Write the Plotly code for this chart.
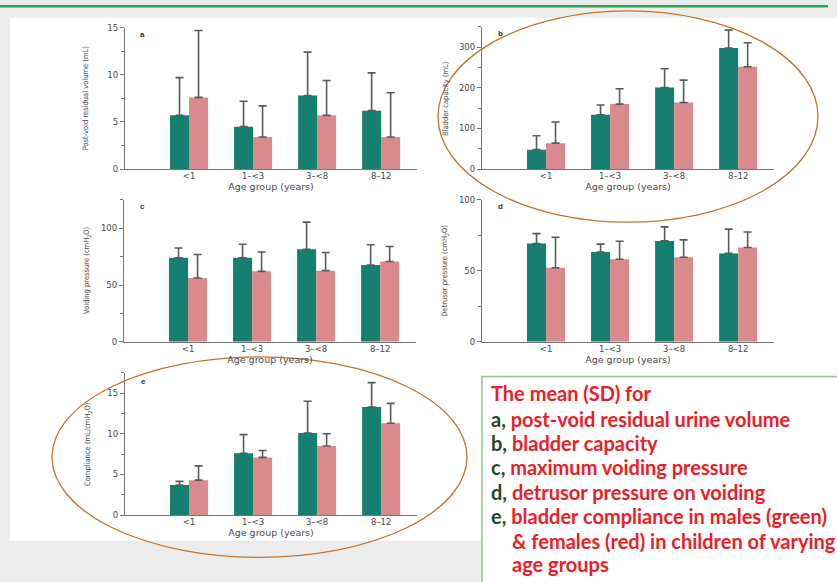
import plotly.graph_objects as go

W, H = 837, 582

categories = ["<1", "1–<3", "3–<8", "8–12"]

# panel a: post-void residual volume (mL)
a_male = [5.7, 4.5, 7.8, 6.2]
a_male_sd = [4.0, 2.7, 4.6, 4.0]
a_female = [7.6, 3.4, 5.7, 3.4]
a_female_sd = [7.1, 3.3, 3.7, 4.7]

# panel b: bladder capacity (mL)
b_male = [48, 134, 201, 298]
b_male_sd = [34, 24, 46, 44]
b_female = [64, 160, 164, 252]
b_female_sd = [52, 38, 55, 59]

# panel c: voiding pressure (cmH2O)
c_male = [74, 74, 81.5, 67.6]
c_male_sd = [8.7, 12, 24, 18]
c_female = [56.3, 62.1, 62.7, 70.8]
c_female_sd = [20.6, 17.1, 16, 13.2]

# panel d: detrusor pressure (cmH2O)
d_male = [69.3, 63.3, 71.1, 62.3]
d_male_sd = [6.9, 5.5, 9.9, 17.1]
d_female = [52.2, 58.2, 59.6, 66.5]
d_female_sd = [21.5, 12.7, 12.2, 10.9]

# panel e: compliance (mL/cmH2O)
e_male = [3.7, 7.6, 10.1, 13.3]
e_male_sd = [0.45, 2.3, 3.9, 3.0]
e_female = [4.3, 7.1, 8.5, 11.3]
e_female_sd = [1.75, 0.85, 1.5, 2.45]

GREEN = "#168070"
RED = "#d98a8e"
AXC = "#777777"
TXT = "#4a4a4a"


def px(x):
    return x / W


def py(y):
    return 1 - y / H


panels = [
    ("a", a_male, a_male_sd, a_female, a_female_sd, 125, 417, 23, 167, 15, 5, 2.5,
     "Post-void residual volume (mL)", 85, (142, 30)),
    ("b", b_male, b_male_sd, b_female, b_female_sd, 482, 774, 22.3, 167, 350, 100, 50,
     "Bladder capacity (mL)", 445, (500, 29)),
    ("c", c_male, c_male_sd, c_female, c_female_sd, 124, 416, 198.4, 342.7, 125, 50, 25,
     "Voiding pressure (cmH<sub>2</sub>O)", 87, (142, 205)),
    ("d", d_male, d_male_sd, d_female, d_female_sd, 482, 774, 198.3, 342.7, 100, 50, 25,
     "Detrusor pressure (cmH<sub>2</sub>O)", 445, (500, 205)),
    ("e", e_male, e_male_sd, e_female, e_female_sd, 125, 417, 374.3, 519, 17.5, 5, 2.5,
     "Compliance (mL/cmH<sub>2</sub>O)", 88, (143, 383)),
]

fig = go.Figure()
annotations = []
shapes = []

# background white image area
shapes.append(dict(type="rect", xref="paper", yref="paper", x0=px(10), x1=px(840),
                   y0=py(545), y1=py(13), fillcolor="white", line_width=0, layer="below"))
# top green line
shapes.append(dict(type="rect", xref="paper", yref="paper", x0=0, x1=px(828),
                   y0=py(2.5), y1=py(0), fillcolor="#2ea84f", line_width=0, layer="below"))

layout_axes = {}
for i, (key, m, msd, f, fsd, x0, x1, yt, yb, yr, dt, mn, ytitle, tx, lpos) in enumerate(panels):
    n = i + 1
    xa = "x" if n == 1 else f"x{n}"
    ya = "y" if n == 1 else f"y{n}"
    for vals, sds, col in ((m, msd, GREEN), (f, fsd, RED)):
        fig.add_trace(go.Bar(
            x=categories, y=vals, xaxis=xa, yaxis=ya, marker_color=col,
            marker_line_width=0, showlegend=False, offsetgroup=col,
            error_y=dict(type="data", symmetric=False, array=sds,
                         arrayminus=[0] * len(sds), color="#5a5a5a",
                         thickness=1.6, width=4),
        ))
    xname = "xaxis" if n == 1 else f"xaxis{n}"
    yname = "yaxis" if n == 1 else f"yaxis{n}"
    layout_axes[xname] = dict(
        domain=[px(x0), px(x1)], anchor=ya, type="category", range=[-1, 3.56],
        showline=True, linecolor=AXC, linewidth=1.3, ticks="", showgrid=False,
        ticklabelstandoff=-1,
        tickfont=dict(family="DejaVu Sans", size=8.5, color=TXT),
        title=dict(text="Age group (years)", standoff=0,
                   font=dict(family="DejaVu Sans", size=9.5, color=TXT)),
        fixedrange=True,
    )
    layout_axes[yname] = dict(
        domain=[py(yb), py(yt)], anchor=xa, range=[0, yr], dtick=dt,
        showline=True, linecolor=AXC, linewidth=1.3, showgrid=False, zeroline=False,
        ticks="outside", ticklen=4, tickcolor=AXC, tickwidth=1,
        minor=dict(dtick=mn, ticks="outside", ticklen=3, tickcolor=AXC),
        tickfont=dict(family="DejaVu Sans", size=8.5, color=TXT),
        fixedrange=True,
    )
    annotations.append(dict(
        xref="paper", yref="paper", x=px(tx), y=py((yt + yb) / 2), text=ytitle,
        textangle=-90, showarrow=False, xanchor="center", yanchor="middle",
        font=dict(family="Liberation Sans Narrow, DejaVu Sans Condensed, Liberation Sans",
                  size=7.5, color=TXT),
    ))
    annotations.append(dict(
        xref="paper", yref="paper", x=px(lpos[0]), y=py(lpos[1]), text=f"<b>{key}</b>",
        showarrow=False, xanchor="center", yanchor="middle",
        font=dict(family="Liberation Sans", size=8, color="#333333"),
    ))

# ellipses
shapes.append(dict(type="circle", xref="paper", yref="paper", x0=px(438), x1=px(818),
                   y0=py(221), y1=py(6), line=dict(color="#c0742e", width=1.3)))
shapes.append(dict(type="circle", xref="paper", yref="paper", x0=px(52), x1=px(467),
                   y0=py(562), y1=py(358), line=dict(color="#c0742e", width=1.3)))

# text box
shapes.append(dict(type="rect", xref="paper", yref="paper", x0=px(482), x1=px(845),
                   y0=py(595), y1=py(378), fillcolor="white",
                   line=dict(color="#8cc98c", width=1.5)))

DG = "#1e4a2a"
RD = "#ee1c25"
lines = [
    (489, 395, f"<span style='color:{RD}'>The mean (SD) for</span>"),
    (489, 421, f"<span style='color:{DG}'>a,</span> <span style='color:{RD}'>post-void residual urine volume</span>"),
    (489, 446, f"<span style='color:{DG}'>b,</span> <span style='color:{RD}'>bladder capacity</span>"),
    (489, 470.5, f"<span style='color:{DG}'>c,</span> <span style='color:{RD}'>maximum voiding pressure</span>"),
    (489, 495.5, f"<span style='color:{DG}'>d,</span> <span style='color:{RD}'>detrusor pressure on voiding</span>"),
    (489, 520, f"<span style='color:{DG}'>e,</span> <span style='color:{RD}'>bladder compliance in males (green)</span>"),
    (510, 545, f"<span style='color:{RD}'>&amp; females (red) in children of varying</span>"),
    (510, 569, f"<span style='color:{RD}'>age groups</span>"),
]
for lx, ly, t in lines:
    annotations.append(dict(
        xref="paper", yref="paper", x=px(lx), y=py(ly), text=f"<b>{t}</b>",
        showarrow=False, xanchor="left", yanchor="middle",
        font=dict(family="Lato", size=20, color=RD),
    ))

fig.update_layout(
    width=W, height=H, margin=dict(l=0, r=0, t=0, b=0),
    paper_bgcolor="#ececec", plot_bgcolor="rgba(0,0,0,0)",
    barmode="group", bargap=0.406, bargroupgap=0,
    shapes=shapes, annotations=annotations, showlegend=False,
    **layout_axes,
)

fig.write_html("out.html", config={"displayModeBar": False},
               post_script="document.body.style.margin='0px';document.body.style.overflow='hidden';")
